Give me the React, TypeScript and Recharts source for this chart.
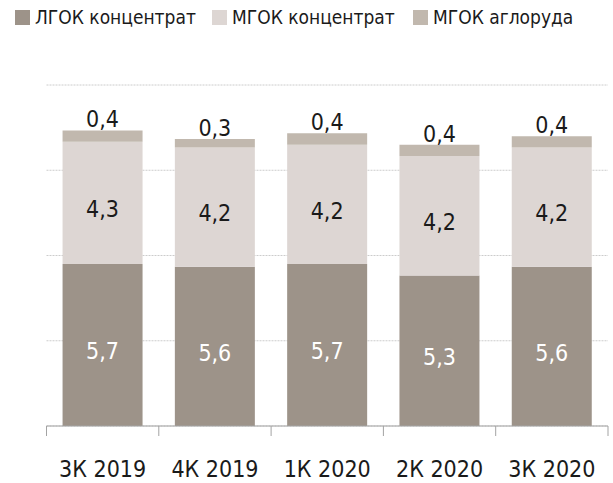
import React from "react";
import { BarChart, Bar, XAxis, YAxis, CartesianGrid, Legend, LabelList } from "recharts";

const categories = ["3К 2019", "4К 2019", "1К 2020", "2К 2020", "3К 2020"];
const lgokConc = [5.7, 5.6, 5.7, 5.3, 5.6];
const mgokConc = [4.3, 4.2, 4.2, 4.2, 4.2];
const mgokAglo = [0.4, 0.3, 0.4, 0.4, 0.4];
const yTicks = [0, 3, 6, 9, 12];

const seriesNames = ["ЛГОК концентрат", "МГОК концентрат", "МГОК аглоруда"];
const colors = ["#9d9389", "#ddd6d3", "#c1b8ae"];

const data = categories.map((c, i) => ({
  cat: c,
  lgok: lgokConc[i],
  mgok: mgokConc[i],
  aglo: mgokAglo[i],
}));

const W = 613;
const H = 483;
const M = { top: 55, right: 5, left: 46.5, bottom: 0 };
const BAND = (W - M.left - M.right) / categories.length;
const FONT = "'DejaVu Sans Condensed', 'DejaVu Sans', sans-serif";
const LFS = 23;

const fmt = (v: any) => String(v).replace(".", ",");

const Tick = (props: any) => {
  const { x, y, payload, index } = props;
  const left = x - BAND / 2;
  const right = x + BAND / 2;
  return (
    <g>
      <line x1={left} x2={left} y1={y} y2={y + 10} stroke="#a3a3a3" strokeWidth={1} />
      {index === categories.length - 1 && (
        <line x1={right} x2={right} y1={y} y2={y + 10} stroke="#a3a3a3" strokeWidth={1} />
      )}
      <text x={x} y={y + 51} textAnchor="middle" fill="#1a1a1a" fontSize={LFS} fontFamily={FONT}>
        {payload.value}
      </text>
    </g>
  );
};

const EmptyTick = () => <g />;

const LegendContent = () => (
  <div style={{ height: 30, position: "relative", fontFamily: FONT, fontSize: 19, color: "#1a1a1a" }}>
    {seriesNames.map((n, i) => {
      const sq = [15, 212, 413][i];
      return (
        <React.Fragment key={n}>
          <div style={{ position: "absolute", left: sq, top: 10, width: 15, height: 15, background: colors[i] }} />
          <div style={{ position: "absolute", left: sq + 20, top: 5, lineHeight: "24px", whiteSpace: "nowrap" }}>{n}</div>
        </React.Fragment>
      );
    })}
  </div>
);

export default function App() {
  return (
    <div style={{ position: "absolute", left: 0, top: 0, width: W, height: H, background: "#fff" }}>
      <BarChart width={W} height={H} data={data} margin={M} barCategoryGap="14.3%">
        <CartesianGrid vertical={false} stroke="#cccccc" strokeDasharray="2 1" />
        <Legend verticalAlign="top" content={<LegendContent />} wrapperStyle={{ top: 0, left: 0, width: W, height: 30 }} />
        <YAxis domain={[0, 12]} ticks={yTicks} width={0} tick={<EmptyTick />} axisLine={false} tickLine={false} interval={0} />
        <XAxis
          dataKey="cat"
          height={57}
          tickSize={0}
          tickMargin={0}
          tickLine={false}
          axisLine={{ stroke: "#a3a3a3" }}
          tick={<Tick />}
          interval={0}
        />
        <Bar dataKey="lgok" stackId="a" fill={colors[0]} isAnimationActive={false} name={seriesNames[0]}>
          <LabelList dataKey="lgok" position="center" dy={6} formatter={fmt} fill="#ffffff" fontSize={LFS} fontFamily={FONT} />
        </Bar>
        <Bar dataKey="mgok" stackId="a" fill={colors[1]} isAnimationActive={false} name={seriesNames[1]}>
          <LabelList dataKey="mgok" position="center" dy={6} formatter={fmt} fill="#1a1a1a" fontSize={LFS} fontFamily={FONT} />
        </Bar>
        <Bar dataKey="aglo" stackId="a" fill={colors[2]} isAnimationActive={false} name={seriesNames[2]}>
          <LabelList dataKey="aglo" position="top" offset={3} formatter={fmt} fill="#1a1a1a" fontSize={LFS} fontFamily={FONT} />
        </Bar>
      </BarChart>
    </div>
  );
}
